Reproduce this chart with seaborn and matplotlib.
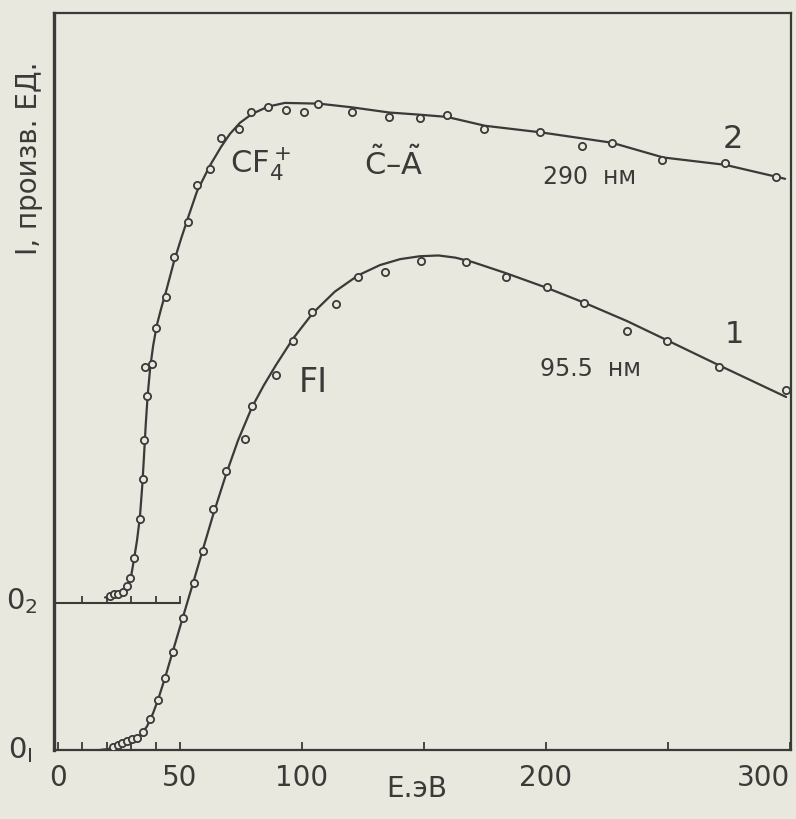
import matplotlib
matplotlib.use("Agg")
import matplotlib.pyplot as plt
import seaborn as sns
import pandas as pd

# ---- data (E in eV, intensity in arbitrary units) ----
# Curve 2: CF4+ (C~ - A~), 290 nm, intensity measured from baseline 0_2
e2_pts = [21.3, 23.0, 24.6, 26.6, 28.3, 29.5, 31.1, 33.6, 34.8, 35.2, 36.5, 35.7,
          38.5, 40.2, 44.3, 47.5, 53.3, 57.0, 62.3, 66.8, 74.2, 79.1, 86.1, 93.4,
          100.8, 106.6, 120.5, 135.7, 148.4, 159.4, 174.6, 197.5, 214.8, 227.0,
          247.5, 273.4, 294.3]
i2_pts = [0.09, 0.11, 0.12, 0.15, 0.23, 0.33, 0.60, 1.14, 1.68, 2.20, 2.80, 3.19,
          3.24, 3.73, 4.15, 4.69, 5.16, 5.67, 5.89, 6.30, 6.42, 6.66, 6.73, 6.68,
          6.66, 6.76, 6.66, 6.59, 6.58, 6.62, 6.43, 6.38, 6.20, 6.24,
          6.00, 5.96, 5.77]
e2_line = [19.3, 23.4, 26.2, 28.3, 29.9, 31.1, 32.4, 33.6, 34.6, 35.3, 36.0, 36.8,
           37.8, 39.0, 40.5, 42.3, 44.3, 47.5, 50.5, 53.5, 57.0, 62.3, 66.8, 70.5,
           74.6, 79.5, 86.1, 93.0, 107.0, 120.5, 135.7, 148.4, 159.4, 175.0,
           198.0, 227.0, 248.0, 273.4, 298.0]
i2_line = [0.07, 0.09, 0.14, 0.20, 0.34, 0.57, 0.84, 1.16, 1.60, 2.00, 2.42, 2.82,
           3.18, 3.48, 3.76, 3.99, 4.22, 4.62, 4.94, 5.24, 5.58, 5.93, 6.18, 6.36,
           6.51, 6.63, 6.73, 6.78, 6.77, 6.72, 6.65, 6.62, 6.59, 6.47,
           6.38, 6.24, 6.04, 5.94, 5.75]
baseline2 = 2.0

# Curve 1: F I, 95.5 nm, intensity measured from baseline 0_1
e1_pts = [22.5, 24.6, 26.2, 28.3, 30.3, 32.4, 34.8, 37.7, 41.0, 43.9, 47.1, 51.2,
          55.7, 59.4, 63.5, 68.9, 76.6, 79.5, 89.3, 96.3, 104.1, 113.9, 123.0,
          134.0, 148.8, 167.2, 183.6, 200.4, 215.6, 233.2, 249.6, 270.9, 298.4]
i1_pts = [0.04, 0.07, 0.09, 0.12, 0.15, 0.16, 0.24, 0.42, 0.68, 0.98, 1.33, 1.79,
          2.27, 2.70, 3.27, 3.79, 4.22, 4.67, 5.09, 5.55, 5.94, 6.05, 6.42,
          6.49, 6.63, 6.62, 6.42, 6.28, 6.06, 5.68, 5.55, 5.20, 4.88]
e1_line = [17.2, 22.1, 26.2, 30.3, 33.6, 36.5, 39.0, 41.0, 43.9, 47.1, 51.2, 55.7,
           59.4, 63.5, 68.9, 73.8, 79.5, 84.4, 89.3, 96.3, 104.5, 113.5, 123.0,
           132.0, 140.2, 148.4, 156.0, 163.0, 170.0, 183.6, 200.4, 215.6, 233.2,
           249.6, 270.9, 298.4]
i1_line = [0.00, 0.02, 0.05, 0.11, 0.19, 0.32, 0.50, 0.68, 0.98, 1.34, 1.80, 2.30,
           2.72, 3.18, 3.74, 4.20, 4.65, 4.95, 5.22, 5.58, 5.93, 6.22, 6.44,
           6.58, 6.66, 6.70, 6.71, 6.68, 6.62, 6.47, 6.27, 6.07, 5.82,
           5.56, 5.22, 4.79]

xtick_major = [0, 50, 100, 150, 200, 250, 300]
xtick_labels = ["0", "50", "100", "", "200", "", "300"]
xtick_minor = [10, 20, 30, 40]
base2_ticks = [10, 20, 30, 40]

# ---- styling ----
BG = "#e9e8df"
INK = "#3a3a38"

sns.set_theme(style="white")
plt.rcParams["font.family"] = ["DejaVu Sans"]
plt.rcParams["mathtext.fontset"] = "dejavusans"

fig = plt.figure(figsize=(7.96, 8.19), dpi=100, facecolor=BG)
ax = fig.add_axes([54 / 796, 69 / 819, 737 / 796, 737 / 819])
ax.set_facecolor(BG)

df_l1 = pd.DataFrame({"E": e1_line, "I": i1_line})
df_p1 = pd.DataFrame({"E": e1_pts, "I": i1_pts})
df_l2 = pd.DataFrame({"E": e2_line, "I": [v + baseline2 for v in i2_line]})
df_p2 = pd.DataFrame({"E": e2_pts, "I": [v + baseline2 for v in i2_pts]})

for dl in (df_l1, df_l2):
    sns.lineplot(data=dl, x="E", y="I", sort=False, estimator=None, ax=ax,
                 color=INK, lw=1.6, zorder=2)
for dp in (df_p1, df_p2):
    ax.plot(dp["E"], dp["I"], ls="none", marker="o", ms=5.2, mew=1.3,
            mfc=BG, mec=INK, zorder=3)

# baseline 0_2 with its small ticks
base_df = pd.DataFrame({"E": [-1.6, 50.0], "I": [baseline2, baseline2]})
sns.lineplot(data=base_df, x="E", y="I", ax=ax, color=INK, lw=1.5, zorder=1)
ax.vlines(base2_ticks + [50.0], baseline2, baseline2 + 0.09, color=INK, lw=1.3)

ax.set_xlim(-1.6, 300.4)
ax.set_ylim(0, 10)
ax.set_xlabel("")
ax.set_ylabel("")
ax.set_yticks([])
ax.set_xticks(xtick_major)
ax.set_xticklabels(xtick_labels)
ax.set_xticks(xtick_minor, minor=True)
ax.tick_params(axis="x", which="both", direction="in", length=6, width=1.3,
               color=INK, labelsize=20, labelcolor=INK, pad=10, bottom=True)
ax.get_xticklabels()[-1].set_horizontalalignment("right")

for side, sp in ax.spines.items():
    sp.set_visible(True)
    sp.set_color(INK)
    sp.set_linewidth(1.6)
ax.spines["left"].set_linewidth(2.4)

# ---- text ----
ax.text(147, -0.53, "Е.эВ", fontsize=20, color=INK, ha="center", va="center",
        clip_on=False)
ax.text(-0.043, 2.02, r"0$_2$", transform=ax.get_yaxis_transform(), fontsize=21,
        color=INK, ha="center", va="center")
ax.text(-0.045, 0.0, r"0$_{\mathregular{I}}$", transform=ax.get_yaxis_transform(),
        fontsize=21, color=INK, ha="center", va="center")
fig.text(29 / 796, 1 - 158 / 819, "I, произв. ЕД.", rotation=90, fontsize=20,
         color=INK, ha="center", va="center")

ax.text(70.5, 7.95, r"CF$_4^+$", fontsize=22, color=INK, ha="left", va="center")
ax.text(125.5, 7.95, r"$\tilde{\mathrm{C}}$–$\tilde{\mathrm{A}}$", fontsize=22,
        color=INK, ha="left", va="center")
ax.text(276.6, 8.28, "2", fontsize=23, color=INK, ha="center", va="center")
ax.text(218, 7.77, "290  нм", fontsize=17, color=INK, ha="center", va="center")
ax.text(104.5, 4.98, "FI", fontsize=24, color=INK, ha="center", va="center")
ax.text(277, 5.64, "1", fontsize=22, color=INK, ha="center", va="center")
ax.text(218.4, 5.17, "95.5  нм", fontsize=17, color=INK, ha="center", va="center")

fig.savefig("out.png", dpi=100, facecolor=BG)
